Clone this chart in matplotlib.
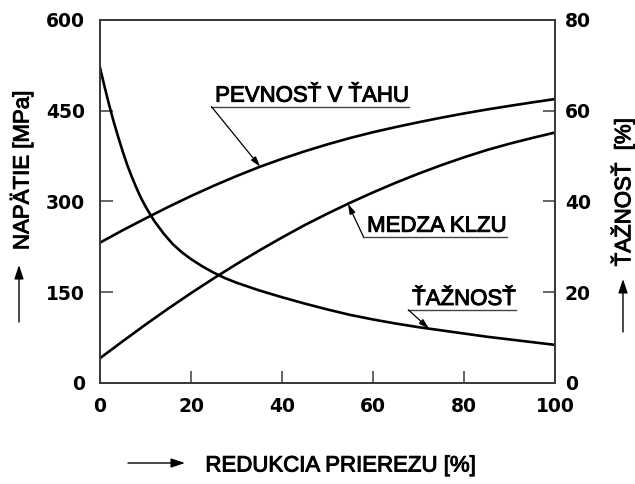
import numpy as np
import matplotlib
matplotlib.use("Agg")
import matplotlib.pyplot as plt
import matplotlib.patheffects as pe
from matplotlib.patches import FancyArrowPatch

plt.rcParams["font.family"] = ["Liberation Sans", "DejaVu Sans"]

# reduction of cross-section [%]
reduction = [0, 5, 10, 15, 20, 25, 30, 35, 40, 45, 50,
             55, 60, 65, 70, 75, 80, 85, 90, 95, 100]

# tensile strength [MPa]
tensile = [232, 252.5, 272, 291, 309, 326, 342, 357, 370.5, 383, 394.5,
           405, 414.5, 423, 431, 438.5, 445.5, 452, 458, 463.8, 469.3]

# yield point [MPa]
yield_pt = [41, 69, 96.5, 123, 148.5, 173, 196.5, 219, 240.5, 261, 280,
            298, 315, 331, 346, 360, 373, 385, 395.5, 405, 414]

# elongation [%], read on a finer grid where it falls steeply
reduction_el = [0, 1, 2, 3, 4, 5, 6, 7, 8, 9, 10, 11, 12, 14, 16, 18, 20,
                22.5, 25, 27.5, 30, 35, 40, 45, 50, 55, 60, 65, 70, 75,
                80, 85, 90, 95, 100]
elongation = [69.5, 65.3, 61.3, 57.6, 54.2, 51.0, 48.0, 45.4, 43.0, 40.8,
              38.9, 37.2, 35.6, 32.9, 30.6, 28.8, 27.3, 25.7, 24.3, 23.1,
              22.1, 20.4, 18.9, 17.5, 16.2, 15.0, 14.0, 13.1, 12.3, 11.6,
              10.9, 10.2, 9.6, 9.0, 8.4]

x_ticks = [0, 20, 40, 60, 80, 100]
stress_ticks = [0, 150, 300, 450, 600]
elong_ticks = [0, 20, 40, 60, 80]

fig = plt.figure(figsize=(6.35, 4.84), dpi=100)
ax = fig.add_axes([0.1575, 0.2087, 0.7165, 0.75])
ax2 = ax.twinx()

lw = 1.9
ax.plot(reduction, tensile, color="black", lw=lw)
ax.plot(reduction, yield_pt, color="black", lw=lw)
ax2.plot(reduction_el, elongation, color="black", lw=lw)

ax.set_xlim(0, 100)
ax.set_ylim(0, 600)
ax2.set_ylim(0, 80)
ax.set_xticks(x_ticks)
ax.set_yticks(stress_ticks)
ax2.set_yticks(elong_ticks)

tick_font = dict(fontsize=13.5, fontweight="bold", family="DejaVu Sans")
for a in (ax, ax2):
    for s in a.spines.values():
        s.set_color("#3a3a3a")
        s.set_linewidth(1.3)
    a.tick_params(direction="in", length=9, width=1.1, color="#3a3a3a")
ax.set_xticklabels([str(v) for v in x_ticks], **tick_font)
ax.set_yticklabels([str(v) for v in stress_ticks], **tick_font)
ax2.set_yticklabels([str(v) for v in elong_ticks], **tick_font)
ax.tick_params(axis="x", pad=10)
ax.tick_params(axis="y", pad=11)
ax2.tick_params(axis="y", pad=7)

heavy = [pe.withStroke(linewidth=0.7, foreground="black")]
label_font = dict(fontsize=16, path_effects=heavy)


def labelled(axis, text, tx, ty, xs, ys, tip_x):
    t = axis.text(tx, ty, text, ha="left", va="baseline", **label_font)
    fig.canvas.draw()
    bb = t.get_window_extent()
    inv = axis.transData.inverted()
    (x0, _), (x1, _) = inv.transform([(bb.x0, bb.y0), (bb.x1, bb.y0)])
    ul = ty - 5 * (axis.get_ylim()[1] / 363)
    axis.plot([x0 - 0.8, x1], [ul, ul], color="#444444", lw=1.0)
    tip_y = np.interp(tip_x, xs, ys)
    axis.annotate("", xy=(tip_x, tip_y), xytext=(x0 - 0.8, ul),
                  arrowprops=dict(arrowstyle="-|>,head_length=0.6,head_width=0.18",
                                  color="black", lw=0.9, shrinkA=0, shrinkB=0))


labelled(ax, "PEVNOSŤ V ŤAHU", 25.3, 465, reduction, tensile, 35.2)
labelled(ax, "MEDZA KLZU", 58.7, 250, reduction, yield_pt, 54.5)
labelled(ax2, "ŤAŽNOSŤ", 68.6, 17.2, reduction_el, elongation, 72.3)

# axis titles with their arrows
fig.text(22 / 635, 1 - 170 / 484, "NAPÄTIE [MPa]", rotation=90,
         ha="center", va="center", **label_font)
fig.text(623 / 635, 1 - 192 / 484, "ŤAŽNOSŤ  [%]", rotation=90,
         ha="center", va="center", **label_font)
fig.text(341 / 635, 1 - 466 / 484, "REDUKCIA PRIEREZU [%]",
         ha="center", va="center", **label_font)

arrow = dict(arrowstyle="-|>,head_length=0.6,head_width=0.2", color="black",
             lw=1.0, shrinkA=0, shrinkB=0, mutation_scale=14,
             transform=fig.transFigure)
fig.add_artist(FancyArrowPatch((19 / 635, 1 - 322 / 484),
                               (19 / 635, 1 - 265 / 484), **arrow))
fig.add_artist(FancyArrowPatch((623 / 635, 1 - 332 / 484),
                               (623 / 635, 1 - 279 / 484), **arrow))
fig.add_artist(FancyArrowPatch((128 / 635, 1 - 463 / 484),
                               (185 / 635, 1 - 463 / 484), **arrow))

fig.savefig("out.png", dpi=100)
